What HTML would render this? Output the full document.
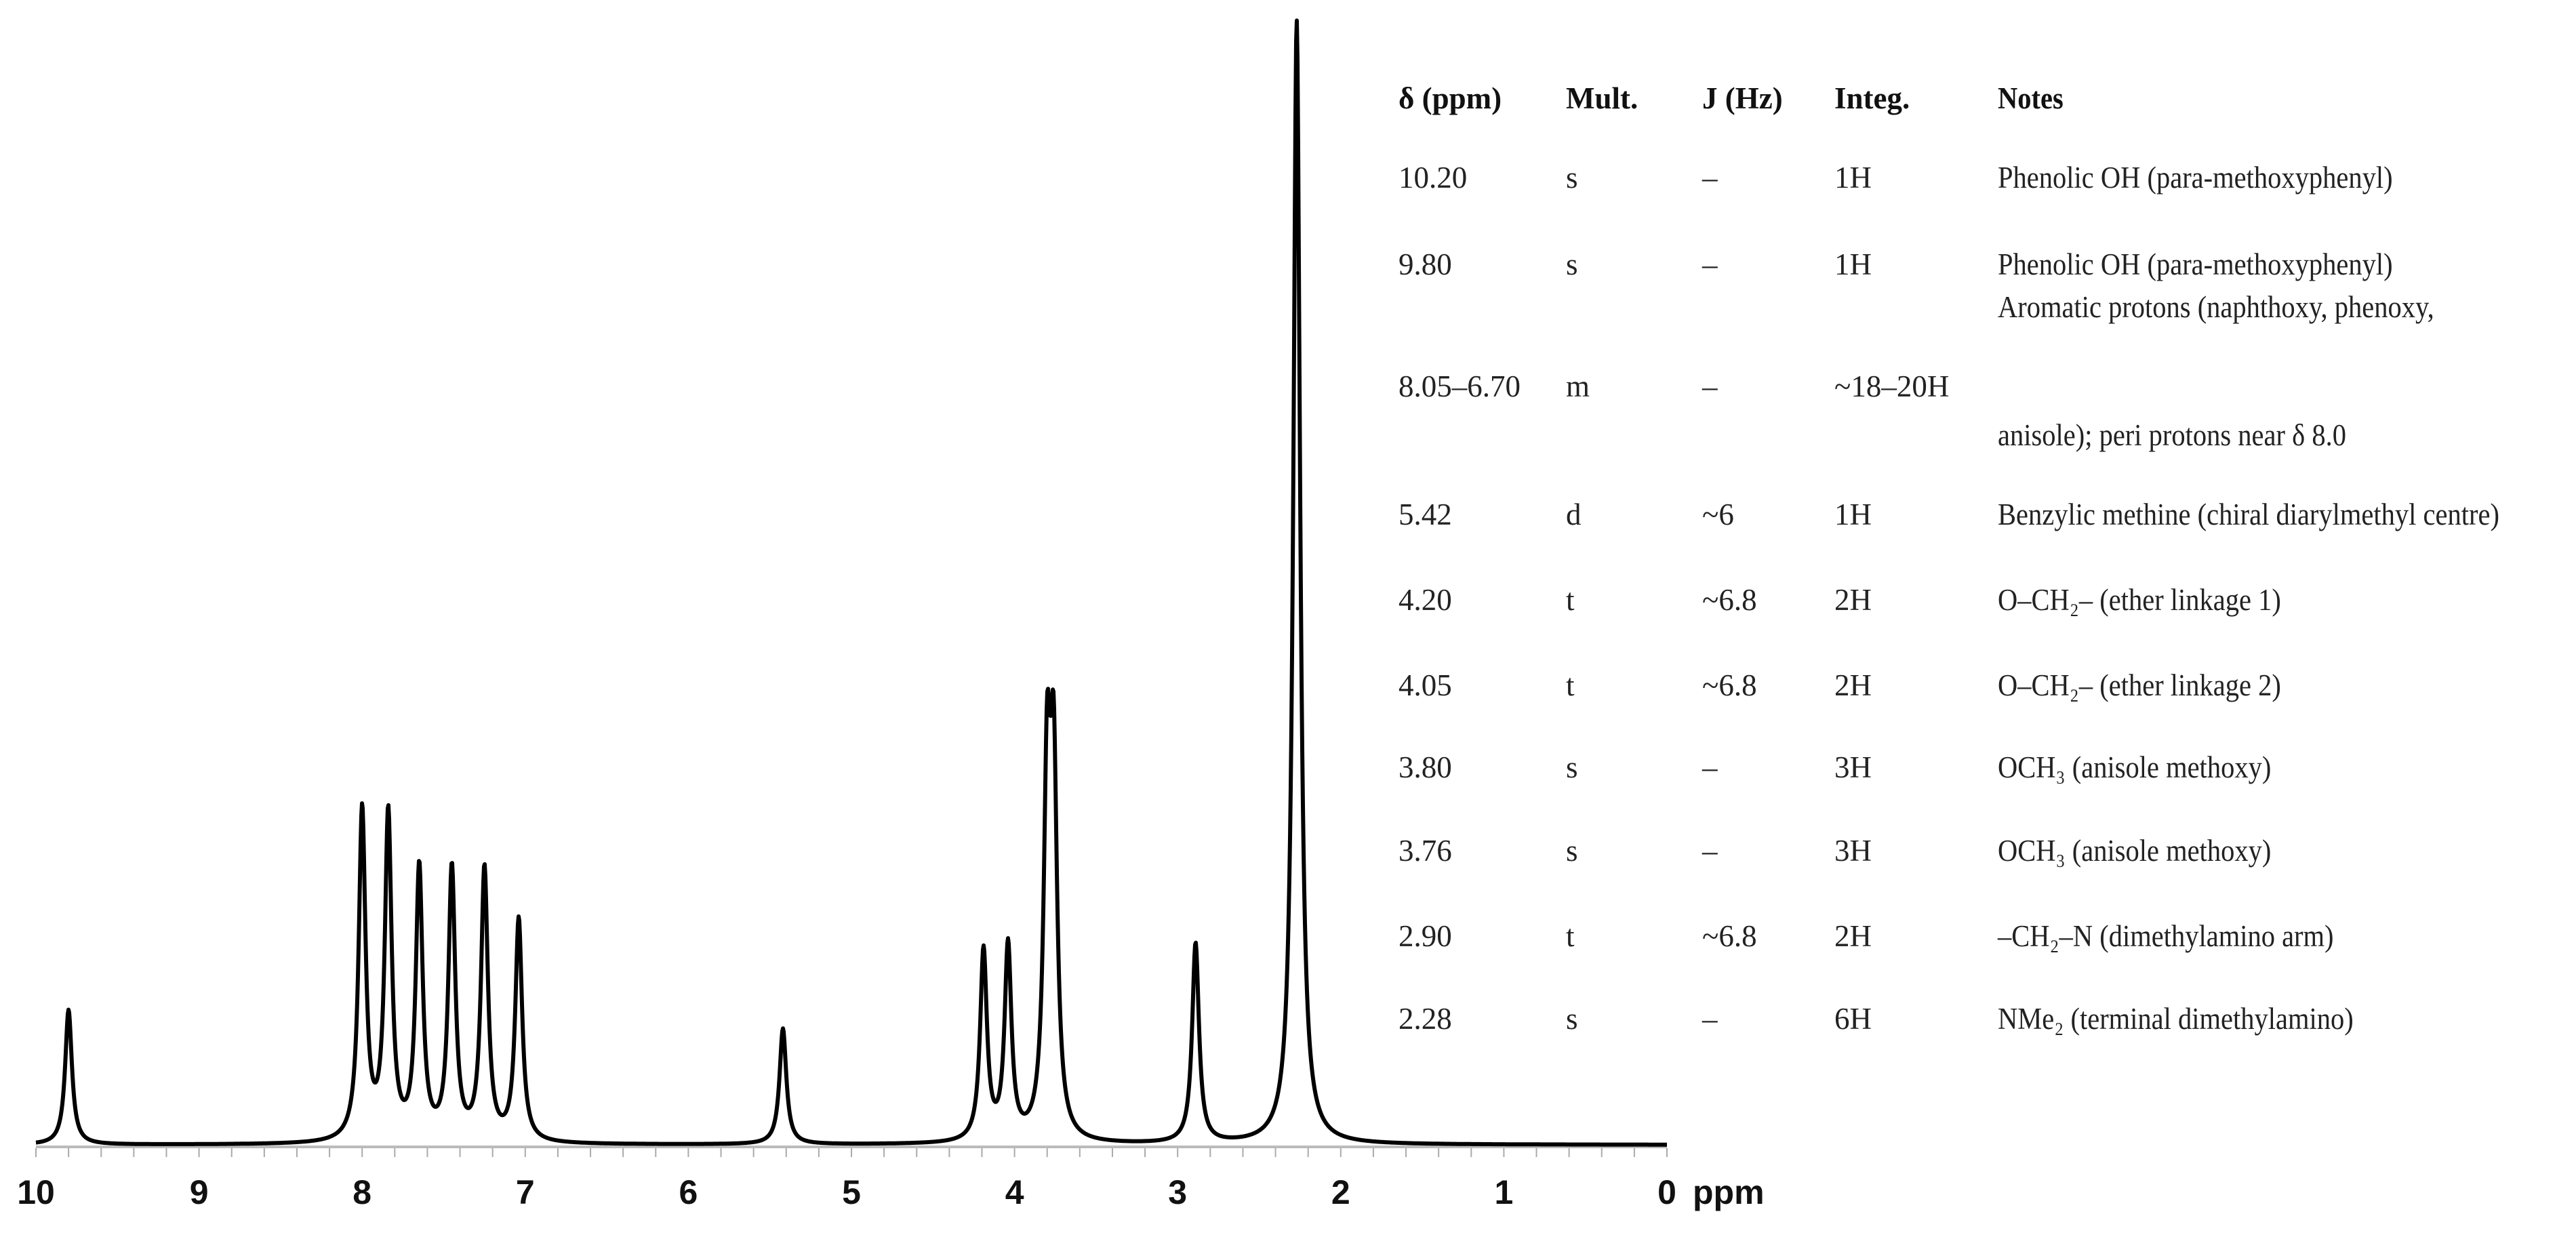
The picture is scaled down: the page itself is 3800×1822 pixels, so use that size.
<!DOCTYPE html>
<html><head><meta charset="utf-8"><style>
html,body{margin:0;padding:0;background:#fff;}
svg{display:block;}
.tb{font-family:"Liberation Serif",serif;font-size:45px;fill:#222;}
.th{font-weight:bold;fill:#111;}
</style></head><body>
<svg id="chart" width="3800" height="1822" viewBox="0 0 3800 1822" xmlns="http://www.w3.org/2000/svg">
<g id="axis"></g>
<path id="spec" fill="none" stroke="#000" stroke-width="6" stroke-linejoin="round"></path>
<text x="2497" y="1776" font-family="Liberation Sans, sans-serif" font-weight="bold" font-size="50" fill="#111">ppm</text>
<g id="table" class="tb"></g>
</svg>
<script>
const peakShifts=[9.80,8.00,7.84,7.65,7.45,7.25,7.04,5.42,4.19,4.04,3.80,3.76,2.89,2.27];
const peakHeights=[12,29.5,29,24.2,24.2,24.2,19.8,10.3,17,17.3,31,31,17.8,100];
const tickLabels=[10,9,8,7,6,5,4,3,2,1,0];
const rowShift=["10.20","9.80","8.05–6.70","5.42","4.20","4.05","3.80","3.76","2.90","2.28"];
const rowMult=["s","s","m","d","t","t","s","s","t","s"];
const rowJ=["–","–","–","~6","~6.8","~6.8","–","–","~6.8","–"];
const rowInteg=["1H","1H","~18–20H","1H","2H","2H","3H","3H","2H","6H"];
const rowNotes=["Phenolic OH (para-methoxyphenyl)","Phenolic OH (para-methoxyphenyl)","Aromatic protons (naphthoxy, phenoxy,|anisole); peri protons near δ 8.0","Benzylic methine (chiral diarylmethyl centre)","O–CH₂– (ether linkage 1)","O–CH₂– (ether linkage 2)","OCH₃ (anisole methoxy)","OCH₃ (anisole methoxy)","–CH₂–N (dimethylamino arm)","NMe₂ (terminal dimethylamino)"];
const NS="http://www.w3.org/2000/svg";
const X0=53,X1=2459,BASE=1689,TOP=30,G=0.025;
const xs=p=>X0+(10-p)*(X1-X0)/10;
const ys=v=>BASE-v*(BASE-TOP)/100;
function intensity(p){let s=0;for(let i=0;i<peakShifts.length;i++){const d=p-peakShifts[i];s+=peakHeights[i]*G*G/(d*d+G*G);}return s;}
let d="";
for(let x=X0;x<=X1;x+=1){const p=10-(x-X0)*10/(X1-X0);d+=(x===X0?"M":"L")+x+" "+Math.max(0,ys(intensity(p))).toFixed(1);}
document.getElementById('spec').setAttribute('d',d);
const ax=document.getElementById('axis');
function mk(tag,attrs,parent){const e=document.createElementNS(NS,tag);for(const k in attrs)e.setAttribute(k,attrs[k]);parent.appendChild(e);return e;}
const base=mk('line',{x1:X0,x2:X1,y1:BASE+3,y2:BASE+3,stroke:'#bbb','stroke-width':4},ax);


for(let i=0;i<=50;i++){const p=10-i*0.2;const t=mk('line',{x1:xs(p),x2:xs(p),y1:BASE+5,y2:BASE+18,stroke:'#aaa','stroke-width':2},ax);

}
tickLabels.forEach(v=>{const t=mk('text',{x:xs(v),y:1776,'text-anchor':'middle','font-family':'Liberation Sans, sans-serif','font-weight':'bold','font-size':50,fill:'#111'},ax);t.textContent=v;

});
const tb=document.getElementById('table');
const cols=[2063,2310,2511,2706,2947];
const rowsY=[262,390,570,759,885,1011,1132,1255,1381,1503];
const hdr=["δ (ppm)","Mult.","J (Hz)","Integ.","Notes"];
hdr.forEach((h,i)=>{const t=mk('text',{x:cols[i],y:160,class:'th'},tb);t.textContent=h;

});
rowShift.forEach((s,r)=>{const y=rowsY[r]+15;const vals=[s,rowMult[r],rowJ[r],rowInteg[r]];
vals.forEach((v,i)=>{const t=mk('text',{x:cols[i],y:y},tb);t.textContent=v;

});
const parts=rowNotes[r].split('|');
if(parts.length===1){const t=mk('text',{x:cols[4],y:y},tb);t.textContent=parts[0];

}
else{[453,642].forEach((yy,k)=>{const t=mk('text',{x:cols[4],y:yy+15},tb);t.textContent=parts[k];

});}
});
tb.querySelectorAll('text').forEach(t=>{if(+t.getAttribute('x')===2947){const w=t.getComputedTextLength();const target=w*0.9;t.setAttribute('textLength',target);t.setAttribute('lengthAdjust','spacingAndGlyphs');}});
</script>
</body></html>
